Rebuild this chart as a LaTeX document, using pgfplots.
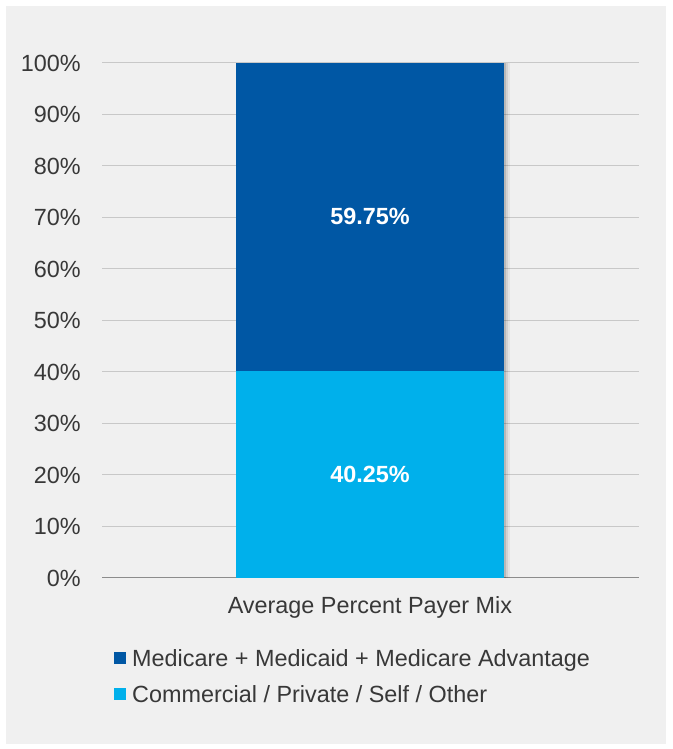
\documentclass[border=0pt]{standalone}
\usepackage{fontspec}
\setmainfont{Liberation Sans}
\usepackage{pgfplots}
\pgfplotsset{compat=1.18}
\usetikzlibrary{shadows}
\definecolor{panel}{HTML}{F0F0F0}
\definecolor{medblue}{HTML}{0057A4}
\definecolor{comblue}{HTML}{00B0EB}
\definecolor{txt}{HTML}{383838}
\definecolor{gridc}{HTML}{C8C8C8}
\definecolor{axisc}{HTML}{8C8C8C}
\newcommand{\chartfont}{\fontsize{23.4}{27}\selectfont}
\makeatletter
\tikzset{no preaction/.code={\let\tikz@preactions\pgfutil@empty}}
\makeatother
% soft shadow on the right edge of the bar
\tikzset{barshadow/.style={
  drop shadow={shadow xshift=2pt, shadow yshift=0pt, opacity=0.12, fill=black},
  drop shadow={shadow xshift=4pt, shadow yshift=0pt, opacity=0.08, fill=black},
  drop shadow={shadow xshift=6pt, shadow yshift=0pt, opacity=0.05, fill=black}}}

\begin{document}
\begin{tikzpicture}[x=1pt,y=1pt]
\fill[white] (0,0) rectangle (672,749);
\fill[panel] (6,5) rectangle (666,743);
\begin{axis}[
  at={(102pt,171pt)}, anchor=south west,
  scale only axis, width=537pt, height=515pt,
  ybar stacked, bar width=268pt,
  xmin=-1, xmax=1.004, ymin=0, ymax=100,
  enlargelimits=false, clip=false,
  axis line style={draw=none},
  tick style={draw=none}, major tick length=0pt,
  xtick={0}, xticklabels={Average Percent Payer Mix},
  ytick={10,20,...,100},
  extra y ticks={0},
  extra y tick style={grid=major, major grid style={axisc, line width=1pt}},
  yticklabel={\pgfmathprintnumber{\tick}\%},
  /pgf/number format/assume math mode=true,
  ymajorgrids, major grid style={gridc, line width=1pt},
  tick label style={text=txt, font=\chartfont, inner sep=0pt},
  yticklabel style={anchor=east, xshift=-21pt},
  xticklabel style={anchor=base, yshift=-36pt},
  legend style={at={(axis description cs:0.0224,-0.138)}, anchor=north west,
    draw=none, fill=none, inner sep=0pt, font=\chartfont, text=txt,
    nodes={inner sep=0pt}, row sep=17.5pt},
  legend cell align=left, reverse legend,
  every node near coord/.append style={font=\bfseries\chartfont, text=white, anchor=center},
]
\addplot[fill=comblue, draw=none, barshadow,
  point meta=rawy,
  nodes near coords={\pgfmathprintnumber[fixed,fixed zerofill,precision=2]{\pgfplotspointmeta}\%},
  legend image code/.code={\fill[no preaction, comblue] (0pt,-6pt) rectangle (12pt,6pt); \path (18pt,0pt);}]
  coordinates {(0,40.25)};
\addplot[fill=medblue, draw=none, barshadow,
  point meta=rawy,
  nodes near coords={\pgfmathprintnumber[fixed,fixed zerofill,precision=2]{\pgfplotspointmeta}\%},
  legend image code/.code={\fill[no preaction, medblue] (0pt,-6pt) rectangle (12pt,6pt); \path (18pt,0pt);}]
  coordinates {(0,59.75)};
\legend{Commercial / Private / Self / Other, Medicare + Medicaid + Medicare Advantage}
\end{axis}
\end{tikzpicture}
\end{document}
